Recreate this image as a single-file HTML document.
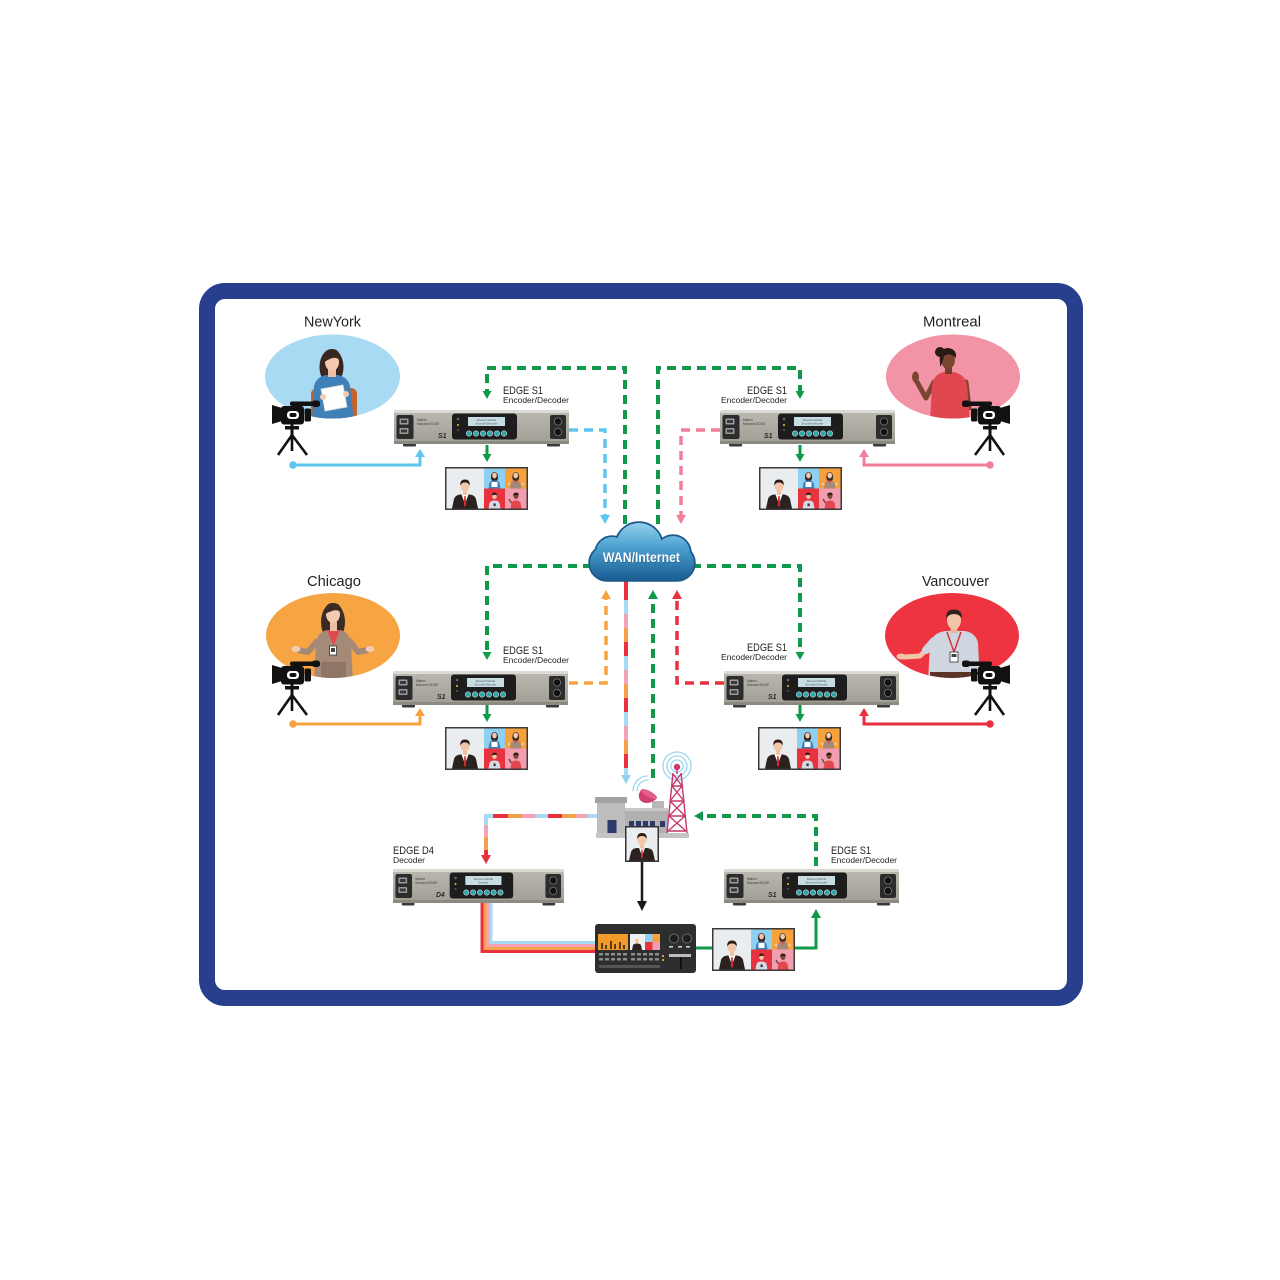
<!DOCTYPE html>
<html><head><meta charset="utf-8"><style>
html,body{margin:0;padding:0;background:#fff;}
svg{display:block}
text{font-family:"Liberation Sans",Arial,sans-serif;fill:#231f20}
.dt{font-size:3.2px;fill:#3a3a3a}
.lcd{font-size:2.8px;fill:#4a5a60}
.lg{font-size:7px;font-weight:bold;font-style:italic;fill:#2a2a2a}
</style></head><body>
<svg width="1280" height="1280" viewBox="0 0 1280 1280" xmlns="http://www.w3.org/2000/svg">
<defs>
 <linearGradient id="cloudG" x1="0" y1="520" x2="0" y2="582" gradientUnits="userSpaceOnUse">
  <stop offset="0" stop-color="#9ad6f1"/>
  <stop offset="0.45" stop-color="#4b9fd0"/>
  <stop offset="1" stop-color="#175a8f"/>
 </linearGradient>
 <linearGradient id="devG" x1="0" y1="0" x2="0" y2="1">
  <stop offset="0" stop-color="#bcb9b1"/>
  <stop offset="1" stop-color="#a09d94"/>
 </linearGradient>
 <clipPath id="cNY"><ellipse cx="332.5" cy="376.5" rx="67.5" ry="42"/></clipPath>
 <clipPath id="cMO"><ellipse cx="953" cy="376.5" rx="67" ry="42"/></clipPath>
 <clipPath id="cCH"><ellipse cx="333" cy="635.5" rx="67" ry="42.5"/></clipPath>
 <clipPath id="cVA"><ellipse cx="952" cy="635.5" rx="67" ry="42.5"/></clipPath>

 <g id="dev">
  <rect x="9" y="32" width="13" height="4.5" rx="1" fill="#3b3b3b"/>
  <rect x="153" y="32" width="13" height="4.5" rx="1" fill="#3b3b3b"/>
  <rect x="0" y="0" width="175" height="34" rx="2" fill="url(#devG)"/>
  <rect x="0" y="0" width="175" height="3" rx="1.5" fill="#dcdad4"/>
  <rect x="0" y="31" width="175" height="3" fill="#8c8981"/>
  <rect x="2.5" y="5" width="17" height="24" rx="2" fill="#2c2c2c"/>
  <rect x="5.5" y="8.5" width="9" height="6" rx="0.8" fill="#9a9a9a"/>
  <rect x="7" y="10" width="6" height="3" fill="#3a3a3a"/>
  <rect x="5.5" y="18" width="9" height="6" rx="0.8" fill="#9a9a9a"/>
  <rect x="7" y="19.5" width="6" height="3" fill="#3a3a3a"/>
  <rect x="58" y="3.5" width="65" height="26" rx="3" fill="#1d1d1d"/>
  <rect x="74" y="7" width="37" height="9" rx="0.5" fill="#c8dde3"/>
  <circle cx="64" cy="9" r="1.3" fill="#666"/>
  <circle cx="64" cy="15" r="1" fill="#e7c431"/>
  <circle cx="64" cy="20" r="1" fill="#555"/>
  <g fill="#2fa3a6" stroke="#cfe3e6" stroke-width="0.6">
   <circle cx="75" cy="23.5" r="2.7"/><circle cx="82" cy="23.5" r="2.7"/><circle cx="89" cy="23.5" r="2.7"/>
   <circle cx="96" cy="23.5" r="2.7"/><circle cx="103" cy="23.5" r="2.7"/><circle cx="110" cy="23.5" r="2.7"/>
  </g>
  <rect x="156" y="5" width="16" height="24" rx="2" fill="#2c2c2c"/>
  <circle cx="164" cy="11.5" r="3.6" fill="#111" stroke="#777" stroke-width="0.8"/>
  <circle cx="164" cy="22" r="3.6" fill="#111" stroke="#777" stroke-width="0.8"/>
 </g>

 <g id="mon">
  <rect width="83" height="43" fill="#3a3a3a"/>
  <rect x="1.5" y="1.5" width="80" height="40" fill="#e9edf0"/>
  <path d="M7 41.5 L9 32 Q10 28.5 15 27.5 L25 27.5 Q30 28.5 31 32 L33 41.5Z" fill="#2b2220"/>
  <path d="M16.5 27.5 L23.5 27.5 L20 37Z" fill="#fff"/>
  <path d="M19.3 29 L20.7 29 L21.2 38 L20 40 L18.8 38Z" fill="#d42a30"/>
  <rect x="18" y="23" width="4" height="5" fill="#f0c2a2"/>
  <ellipse cx="20" cy="19" rx="4.5" ry="5.5" fill="#f2c6a8"/>
  <path d="M15.3 18.5 Q14.8 12.5 20 12.5 Q25.2 12.5 24.7 18.5 Q23 15 20 15.5 Q17 15 15.3 18.5Z" fill="#2a1c17"/>
  <rect x="39" y="1.5" width="21" height="20" fill="#8ed0ef"/>
  <rect x="60" y="1.5" width="21.5" height="20" fill="#f6a13b"/>
  <rect x="39" y="21.5" width="21" height="20" fill="#e8333f"/>
  <rect x="60" y="21.5" width="21.5" height="20" fill="#f39db2"/>
  <ellipse cx="49.5" cy="10" rx="3.6" ry="5" fill="#3a2620"/>
  <path d="M43.5 21.5 L44.5 16 Q45.5 13.5 49.5 13.5 Q53.5 13.5 54.5 16 L55.5 21.5Z" fill="#3f80b9"/>
  <ellipse cx="49.5" cy="8.5" rx="2.3" ry="2.9" fill="#f4c8ad"/>
  <rect x="46.5" y="15" width="6" height="5" fill="#fff"/>
  <ellipse cx="70.7" cy="10" rx="3.4" ry="5" fill="#3a2b26"/>
  <path d="M65 21.5 L66 16 Q67 13.5 70.7 13.5 Q74.5 13.5 75.5 16 L76.5 21.5Z" fill="#a68a78"/>
  <path d="M69 13.5 L72.4 13.5 L70.7 17Z" fill="#e24a4f"/>
  <ellipse cx="70.7" cy="8.5" rx="2.3" ry="2.9" fill="#f3cbb0"/>
  <circle cx="64" cy="17" r="1.2" fill="#f3cbb0"/><circle cx="77.5" cy="17" r="1.2" fill="#f3cbb0"/>
  <path d="M43.5 41.5 L44.5 36 Q45.5 33.5 49.5 33.5 Q53.5 33.5 54.5 36 L55.5 41.5Z" fill="#d3dae3"/>
  <ellipse cx="49.5" cy="29" rx="2.4" ry="3" fill="#f2c4a5"/>
  <path d="M47 28.5 Q47 25.5 49.5 25.5 Q52 25.5 52 28.5 Q50 27 47 28.5Z" fill="#2b1c17"/>
  <rect x="48.5" y="36.5" width="2.2" height="2.6" fill="#333"/>
  <path d="M65.5 41.5 L66.5 36 Q67.5 33.5 71 33.5 Q74.5 33.5 75.5 36 L76.5 41.5Z" fill="#e1474f"/>
  <ellipse cx="71" cy="29" rx="2.4" ry="3" fill="#7a4630"/>
  <path d="M68.3 29 Q68 25.5 71 25.5 Q74 25.5 73.7 28.5 Q71 26.5 68.3 29Z" fill="#2a1a14"/>
  <path d="M66.5 36 L64 32" stroke="#7a4630" stroke-width="1.5"/>
 </g>

 <g id="cam">
  <g fill="#111">
   <rect x="-2" y="1.5" width="26" height="4.5" rx="2"/>
   <rect x="20" y="0.5" width="8" height="6.5" rx="2.5"/>
   <rect x="1" y="4" width="3" height="4"/>
   <polygon points="-20,5 -10,8 -10,21 -20,24"/>
   <rect x="-11" y="6" width="23" height="18.5" rx="3"/>
   <rect x="12.5" y="8.5" width="6.5" height="13" rx="1.5"/>
   <rect x="-7" y="26" width="14" height="3.5"/>
   <rect x="-1.5" y="24" width="3" height="14"/>
  </g>
  <rect x="-5" y="11" width="12" height="8" rx="3.5" fill="#fff"/>
  <rect x="-2.5" y="13" width="7" height="4" rx="2" fill="#111"/>
  <path d="M0 35 L-14 55 M0 35 L15 55 M0 35 L0 51" stroke="#111" stroke-width="2.6" fill="none"/>
 </g>
</defs>

<!-- frame -->
<rect x="207" y="291" width="868" height="707" rx="18" fill="#fff" stroke="#273f8d" stroke-width="16"/>

<!-- city labels -->
<text x="304" y="326.5" font-size="15" textLength="57" lengthAdjust="spacingAndGlyphs">NewYork</text>
<text x="923" y="326.5" font-size="15" textLength="58" lengthAdjust="spacingAndGlyphs">Montreal</text>
<text x="307" y="586" font-size="15" textLength="54" lengthAdjust="spacingAndGlyphs">Chicago</text>
<text x="922" y="586" font-size="15" textLength="67" lengthAdjust="spacingAndGlyphs">Vancouver</text>

<!-- device labels -->
<g font-size="11">
 <text x="503" y="394" textLength="40" lengthAdjust="spacingAndGlyphs">EDGE S1</text>
 <text x="747" y="394" textLength="40" lengthAdjust="spacingAndGlyphs">EDGE S1</text>
 <text x="503" y="654" textLength="40" lengthAdjust="spacingAndGlyphs">EDGE S1</text>
 <text x="747" y="651" textLength="40" lengthAdjust="spacingAndGlyphs">EDGE S1</text>
 <text x="393" y="854" textLength="41" lengthAdjust="spacingAndGlyphs">EDGE D4</text>
 <text x="831" y="854" textLength="40" lengthAdjust="spacingAndGlyphs">EDGE S1</text>
</g>
<g font-size="8.5">
 <text x="503" y="403" textLength="66" lengthAdjust="spacingAndGlyphs">Encoder/Decoder</text>
 <text x="721" y="403" textLength="66" lengthAdjust="spacingAndGlyphs">Encoder/Decoder</text>
 <text x="503" y="663" textLength="66" lengthAdjust="spacingAndGlyphs">Encoder/Decoder</text>
 <text x="721" y="660" textLength="66" lengthAdjust="spacingAndGlyphs">Encoder/Decoder</text>
 <text x="393" y="863" textLength="32" lengthAdjust="spacingAndGlyphs">Decoder</text>
 <text x="831" y="863" textLength="66" lengthAdjust="spacingAndGlyphs">Encoder/Decoder</text>
</g>

<!-- ellipses & people -->
<ellipse cx="332.5" cy="376.5" rx="67.5" ry="42" fill="#a9daf3"/>
<g clip-path="url(#cNY)">
 <rect x="311" y="388" width="46" height="34" rx="6" fill="#c0652d"/>
 <ellipse cx="331.5" cy="367" rx="12" ry="18" fill="#3a2620"/>
 <path d="M312 422 L314 386 Q316 377 326 375 L338 375 Q348 377 350 386 L354 422Z" fill="#3f80b9"/>
 <rect x="328" y="367" width="8" height="10" fill="#efbea2"/>
 <ellipse cx="332" cy="362" rx="7" ry="9" fill="#f5c9af"/>
 <path d="M324.5 362 Q323 349 332 349 Q341 349 340 361 Q336 354 324.5 362Z" fill="#3a2620"/>
 <polygon points="321,389 343,385 347,407 325,411" fill="#fff" stroke="#d8d8d8" stroke-width="0.8"/>
 <circle cx="323" cy="397" r="3" fill="#f5c9af"/><circle cx="346" cy="394" r="3" fill="#f5c9af"/>
</g>

<ellipse cx="953" cy="376.5" rx="67" ry="42" fill="#f393a6"/>
<g clip-path="url(#cMO)">
 <circle cx="940" cy="352" r="5" fill="#2a1a14"/>
 <path d="M934 382 L926 398 L917 382" stroke="#7a4630" stroke-width="5" fill="none" stroke-linejoin="round" stroke-linecap="round"/>
 <ellipse cx="915.5" cy="377" rx="3.5" ry="5.5" fill="#7a4630"/>
 <path d="M966 382 L969 408" stroke="#7a4630" stroke-width="5" stroke-linecap="round"/>
 <path d="M930 422 L932 385 Q934 374 944 372 L953 372 Q965 374 967 385 L970 422Z" fill="#e1474f"/>
 <rect x="945" y="365" width="7" height="9" fill="#6e3f2a"/>
 <ellipse cx="948" cy="360" rx="7" ry="9" fill="#7a4630"/>
 <path d="M940 363 Q938 348 948 348 Q957 349 956 358 Q950 352 944 356 Q943 362 940 367Z" fill="#2a1a14"/>
</g>

<ellipse cx="333" cy="635.5" rx="67" ry="42.5" fill="#f7a443"/>
<g clip-path="url(#cCH)">
 <ellipse cx="333" cy="622" rx="12" ry="19" fill="#3a2b26"/>
 <path d="M318 640 L308 652 L298 650" stroke="#a68a78" stroke-width="6" fill="none" stroke-linejoin="round"/>
 <path d="M349 640 L358 652 L368 650" stroke="#a68a78" stroke-width="6" fill="none" stroke-linejoin="round"/>
 <ellipse cx="296" cy="649" rx="4.5" ry="3" fill="#f3cbb0"/>
 <ellipse cx="370" cy="649" rx="4.5" ry="3" fill="#f3cbb0"/>
 <path d="M314 682 L316 642 Q318 632 327 630 L340 630 Q349 632 351 642 L353 682Z" fill="#a68a78"/>
 <rect x="321" y="662" width="25" height="20" fill="#8f7566"/>
 <polygon points="327,630 340,630 333.5,646" fill="#e24a4f"/>
 <rect x="330" y="622" width="7" height="9" fill="#ecbfa3"/>
 <ellipse cx="333" cy="614" rx="7" ry="9" fill="#f3cbb0"/>
 <path d="M325.5 614 Q324 603 333 603 Q342 603 341 613 Q337 607 325.5 614Z" fill="#3a2b26"/>
 <rect x="329.5" y="646" width="7" height="9" fill="#fff" stroke="#333" stroke-width="0.8"/>
 <rect x="331" y="648" width="4" height="4" fill="#444"/>
</g>

<ellipse cx="952" cy="635.5" rx="67" ry="42.5" fill="#ee3441"/>
<g clip-path="url(#cVA)">
 <path d="M934 642 L920 656 L904 657" stroke="#f2c4a5" stroke-width="5" fill="none" stroke-linejoin="round" stroke-linecap="round"/>
 <path d="M934 641 L926 650" stroke="#cfd6e0" stroke-width="8" stroke-linecap="round"/>
 <ellipse cx="901" cy="656.5" rx="4.5" ry="3" fill="#f2c4a5"/>
 <path d="M928 682 L930 643 Q933 633 945 631 L965 631 Q976 633 978 643 L980 682Z" fill="#cfd6e0"/>
 <rect x="930" y="672" width="48" height="10" fill="#5a3426"/>
 <rect x="950.5" y="624" width="7" height="9" fill="#e8b797"/>
 <ellipse cx="954" cy="620" rx="7" ry="9.5" fill="#f2c4a5"/>
 <path d="M946.5 619 Q945 609.5 954 609.5 Q963 609.5 961.5 619 Q960 614 954 614 Q948 614 946.5 619Z" fill="#2f211b"/>
 <path d="M947 632 L954 652 L961 632" stroke="#d62f3e" stroke-width="1.5" fill="none"/>
 <rect x="950" y="652" width="8" height="10" fill="#fff" stroke="#333" stroke-width="0.8"/>
 <rect x="951.5" y="654" width="5" height="3" fill="#444"/>
</g>

<!-- cameras -->
<use href="#cam" transform="translate(292,400)"/>
<use href="#cam" transform="translate(292,660)"/>
<use href="#cam" transform="translate(990,400) scale(-1,1)"/>
<use href="#cam" transform="translate(990,660) scale(-1,1)"/>

<!-- solid camera lines -->
<g stroke-width="3" fill="none">
 <path d="M293 465 H420 V456" stroke="#5ec5ee"/>
 <path d="M990 465 H864 V456" stroke="#f27f99"/>
 <path d="M293 724 H420 V715" stroke="#f7a23f"/>
 <path d="M990 724 H864 V715" stroke="#e8303f"/>
</g>
<circle cx="293" cy="465" r="3.8" fill="#5ec5ee"/>
<polygon points="415,457 425,457 420,449" fill="#5ec5ee"/>
<circle cx="990" cy="465" r="3.8" fill="#f27f99"/>
<polygon points="859,457 869,457 864,449" fill="#f27f99"/>
<circle cx="293" cy="724" r="3.8" fill="#f7a23f"/>
<polygon points="415,716 425,716 420,708" fill="#f7a23f"/>
<circle cx="990" cy="724" r="3.8" fill="#e8303f"/>
<polygon points="859,716 869,716 864,708" fill="#e8303f"/>

<!-- dashed lines -->
<g fill="none" stroke-width="4" stroke-dasharray="9 6">
 <path d="M625 524 V368 H487 V391" stroke="#0f9a4a"/>
 <path d="M658 524 V368 H800 V391" stroke="#0f9a4a"/>
 <path d="M592 566 H487 V652" stroke="#0f9a4a"/>
 <path d="M692 566 H800 V652" stroke="#0f9a4a"/>
 <path d="M653 778 V598" stroke="#0f9a4a"/>
 <path d="M816 866 V816 H702" stroke="#0f9a4a"/>
 <path d="M569 430 H605 V515" stroke="#5ec5ee" stroke-width="3.5"/>
 <path d="M720 430 H681 V515" stroke="#f27f99" stroke-width="3.5"/>
 <path d="M569 683 H606 V598" stroke="#f7a23f" stroke-width="3.5"/>
 <path d="M724 683 H677 V598" stroke="#e8303f" stroke-width="3.5"/>
</g>
<polygon points="482.5,391 491.5,391 487,399" fill="#0f9a4a"/>
<polygon points="795.5,391 804.5,391 800,399" fill="#0f9a4a"/>
<polygon points="482.5,652 491.5,652 487,660" fill="#0f9a4a"/>
<polygon points="795.5,652 804.5,652 800,660" fill="#0f9a4a"/>
<polygon points="648,599 658,599 653,590" fill="#0f9a4a"/>
<polygon points="703,811 703,821 694,816" fill="#0f9a4a"/>
<polygon points="600,515 610,515 605,524" fill="#5ec5ee"/>
<polygon points="676,515 686,515 681,524" fill="#f27f99"/>
<polygon points="601,599 611,599 606,590" fill="#f7a23f"/>
<polygon points="672,599 682,599 677,590" fill="#e8303f"/>

<!-- multicolor vertical from cloud -->
<g stroke-width="4">
 <line x1="626" y1="578" x2="626" y2="600" stroke="#e8303f"/>
 <line x1="626" y1="600" x2="626" y2="614" stroke="#a6dbf3"/>
 <line x1="626" y1="614" x2="626" y2="628" stroke="#f4a3b6"/>
 <line x1="626" y1="628" x2="626" y2="642" stroke="#f5a04a"/>
 <line x1="626" y1="642" x2="626" y2="656" stroke="#e8303f"/>
 <line x1="626" y1="656" x2="626" y2="670" stroke="#a6dbf3"/>
 <line x1="626" y1="670" x2="626" y2="684" stroke="#f4a3b6"/>
 <line x1="626" y1="684" x2="626" y2="698" stroke="#f5a04a"/>
 <line x1="626" y1="698" x2="626" y2="712" stroke="#e8303f"/>
 <line x1="626" y1="712" x2="626" y2="726" stroke="#a6dbf3"/>
 <line x1="626" y1="726" x2="626" y2="740" stroke="#f4a3b6"/>
 <line x1="626" y1="740" x2="626" y2="754" stroke="#f5a04a"/>
 <line x1="626" y1="754" x2="626" y2="768" stroke="#e8303f"/>
 <line x1="626" y1="768" x2="626" y2="776" stroke="#a6dbf3"/>
</g>
<polygon points="621,775 631,775 626,784" fill="#93d2f0"/>

<!-- multicolor horizontal to D4 -->
<g stroke-width="4">
 <line x1="599" y1="816" x2="588" y2="816" stroke="#a6dbf3"/>
 <line x1="588" y1="816" x2="575" y2="816" stroke="#f4a3b6"/>
 <line x1="575" y1="816" x2="562" y2="816" stroke="#f5a04a"/>
 <line x1="562" y1="816" x2="548" y2="816" stroke="#e8303f"/>
 <line x1="548" y1="816" x2="535" y2="816" stroke="#a6dbf3"/>
 <line x1="535" y1="816" x2="522" y2="816" stroke="#f4a3b6"/>
 <line x1="522" y1="816" x2="508" y2="816" stroke="#f5a04a"/>
 <line x1="508" y1="816" x2="493" y2="816" stroke="#e8303f"/>
 <path d="M493 816 H486 V825" stroke="#a6dbf3" fill="none"/>
 <line x1="486" y1="825" x2="486" y2="837" stroke="#f4a3b6"/>
 <line x1="486" y1="837" x2="486" y2="850" stroke="#f5a04a"/>
 <line x1="486" y1="850" x2="486" y2="856" stroke="#e8303f"/>
</g>
<polygon points="481,855 491,855 486,864" fill="#e8303f"/>

<!-- cables from D4 to switcher -->
<g fill="none" stroke-width="3">
 <path d="M482 902 V951.5 H596" stroke="#e8303f"/>
 <path d="M485 902 V948.5 H596" stroke="#f5a04a"/>
 <path d="M488 902 V945.5 H596" stroke="#f4a3b6"/>
 <path d="M491 902 V942.5 H596" stroke="#a6dbf3"/>
</g>

<!-- green device->monitor arrows -->
<g stroke="#0f9a4a" stroke-width="3">
 <line x1="487" y1="445" x2="487" y2="455"/>
 <line x1="800" y1="445" x2="800" y2="455"/>
 <line x1="487" y1="705" x2="487" y2="715"/>
 <line x1="800" y1="705" x2="800" y2="715"/>
</g>
<g fill="#0f9a4a">
 <polygon points="482.5,454 491.5,454 487,462"/>
 <polygon points="795.5,454 804.5,454 800,462"/>
 <polygon points="482.5,714 491.5,714 487,722"/>
 <polygon points="795.5,714 804.5,714 800,722"/>
</g>

<!-- bottom green solid + black arrow -->
<path d="M696 948 H712 M794 948 H816 V917" stroke="#0f9a4a" stroke-width="3" fill="none"/>
<polygon points="811,918 821,918 816,909" fill="#0f9a4a"/>
<line x1="642" y1="862" x2="642" y2="902" stroke="#1a1a1a" stroke-width="2.5"/>
<polygon points="637,901 647,901 642,911" fill="#1a1a1a"/>

<!-- devices -->
<g transform="translate(394,410)"><use href="#dev"/><text x="23" y="11" class="dt">Matrox</text><text x="23" y="15" class="dt">Monarch EDGE</text><text x="44" y="28" class="lg">S1</text><text x="92.5" y="10.8" class="lcd" text-anchor="middle">Monarch EDGE</text><text x="92.5" y="14.3" class="lcd" text-anchor="middle">Encoder/Decoder</text></g>
<g transform="translate(720,410)"><use href="#dev"/><text x="23" y="11" class="dt">Matrox</text><text x="23" y="15" class="dt">Monarch EDGE</text><text x="44" y="28" class="lg">S1</text><text x="92.5" y="10.8" class="lcd" text-anchor="middle">Monarch EDGE</text><text x="92.5" y="14.3" class="lcd" text-anchor="middle">Encoder/Decoder</text></g>
<g transform="translate(393,671)"><use href="#dev"/><text x="23" y="11" class="dt">Matrox</text><text x="23" y="15" class="dt">Monarch EDGE</text><text x="44" y="28" class="lg">S1</text><text x="92.5" y="10.8" class="lcd" text-anchor="middle">Monarch EDGE</text><text x="92.5" y="14.3" class="lcd" text-anchor="middle">Encoder/Decoder</text></g>
<g transform="translate(724,671)"><use href="#dev"/><text x="23" y="11" class="dt">Matrox</text><text x="23" y="15" class="dt">Monarch EDGE</text><text x="44" y="28" class="lg">S1</text><text x="92.5" y="10.8" class="lcd" text-anchor="middle">Monarch EDGE</text><text x="92.5" y="14.3" class="lcd" text-anchor="middle">Encoder/Decoder</text></g>
<g transform="translate(393,869) scale(0.977,1)"><use href="#dev"/><text x="23" y="11" class="dt">Matrox</text><text x="23" y="15" class="dt">Monarch EDGE</text><text x="44" y="28" class="lg">D4</text><text x="92.5" y="10.8" class="lcd" text-anchor="middle">Monarch EDGE</text><text x="92.5" y="14.3" class="lcd" text-anchor="middle">Decoder</text></g>
<g transform="translate(724,869)"><use href="#dev"/><text x="23" y="11" class="dt">Matrox</text><text x="23" y="15" class="dt">Monarch EDGE</text><text x="44" y="28" class="lg">S1</text><text x="92.5" y="10.8" class="lcd" text-anchor="middle">Monarch EDGE</text><text x="92.5" y="14.3" class="lcd" text-anchor="middle">Encoder/Decoder</text></g>

<!-- monitors -->
<use href="#mon" x="445" y="467"/>
<use href="#mon" x="759" y="467"/>
<use href="#mon" x="445" y="727"/>
<use href="#mon" x="758" y="727"/>
<use href="#mon" x="712" y="928"/>

<!-- cloud -->
<g stroke="#1d5b8e" stroke-width="3.5" fill="#1d5b8e">
 <rect x="590" y="546" width="104" height="34" rx="17"/>
 <circle cx="612" cy="553" r="16"/>
 <circle cx="639" cy="546" r="23"/>
 <circle cx="673" cy="553" r="17"/>
</g>
<g fill="url(#cloudG)">
 <rect x="590" y="546" width="104" height="34" rx="17"/>
 <circle cx="612" cy="553" r="16"/>
 <circle cx="639" cy="546" r="23"/>
 <circle cx="673" cy="553" r="17"/>
</g>
<text x="603.5" y="562.5" font-size="14" font-weight="bold" textLength="77" lengthAdjust="spacingAndGlyphs" style="fill:#1a4f7a">WAN/Internet</text>
<text x="603" y="562" font-size="14" font-weight="bold" textLength="77" lengthAdjust="spacingAndGlyphs" style="fill:#ffffff">WAN/Internet</text>

<!-- broadcast station -->
<g>
 <circle cx="677" cy="766" r="14" fill="none" stroke="#9ad6f1" stroke-width="1.3"/>
 <circle cx="677" cy="766" r="10" fill="none" stroke="#9ad6f1" stroke-width="1.3"/>
 <circle cx="677" cy="766" r="6" fill="none" stroke="#9ad6f1" stroke-width="1.3"/>
 <path d="M637 791 A11 11 0 0 1 648 780" fill="none" stroke="#9ad6f1" stroke-width="1.3"/>
 <path d="M633 791 A15 15 0 0 1 648 776" fill="none" stroke="#9ad6f1" stroke-width="1.3"/>
 <rect x="597" y="802" width="28" height="36" fill="#bdbdbd"/>
 <rect x="595" y="797" width="32" height="6" fill="#a2a2a2"/>
 <rect x="607.5" y="820" width="9" height="17" fill="#2b3a6b"/>
 <rect x="625" y="808" width="43" height="30" fill="#b1b1b1"/>
 <rect x="625" y="808" width="43" height="3" fill="#c9c9c9"/>
 <rect x="652" y="801" width="12" height="7" fill="#b8b8b8"/>
 <g fill="#2b3a6b">
  <rect x="629" y="821" width="5" height="6"/><rect x="636" y="821" width="5" height="6"/>
  <rect x="643" y="821" width="5" height="6"/><rect x="650" y="821" width="5" height="6"/>
  <rect x="660" y="821" width="5" height="6"/>
 </g>
 <rect x="648" y="796" width="3" height="6" fill="#999"/>
 <path d="M641 790 A9 7 -30 0 0 657 798 Z" fill="#d1406f"/>
 <ellipse cx="649" cy="794" rx="9" ry="3" transform="rotate(28 649 794)" fill="#e0608a"/>
 <g stroke="#c6376c" stroke-width="1.4" fill="none">
  <path d="M673 773 L667 833 M681 773 L687 833"/>
  <path d="M672 786 H682 M670 801 H684 M669 816 H685 M668 831 H686"/>
  <path d="M673 774 L682 786 M681 774 L672 786 M672 786 L684 801 M682 786 L670 801 M670 801 L685 816 M684 801 L669 816 M669 816 L686 831 M685 816 L668 831"/>
  <line x1="677" y1="769" x2="677" y2="774"/>
 </g>
 <circle cx="677" cy="767" r="3.2" fill="#c6376c"/>
 <rect x="596" y="833" width="93" height="5" fill="#c4c4c4"/>
</g>

<!-- anchor box -->
<g>
 <rect x="625" y="826" width="34" height="36" fill="#333"/>
 <rect x="626.5" y="827.5" width="31" height="33" fill="#eaeef1"/>
 <path d="M629 860.5 L631 852 Q632 848.5 637 848 L647 848 Q652 848.5 653 852 L655 860.5Z" fill="#2b2220"/>
 <path d="M639 848 L645 848 L642 856Z" fill="#fff"/>
 <path d="M641.4 849.5 L642.6 849.5 L643 857 L642 859 L641 857Z" fill="#d42a30"/>
 <rect x="640" y="843" width="4" height="5.5" fill="#f0c2a2"/>
 <ellipse cx="642" cy="839.5" rx="4.5" ry="5.5" fill="#f2c6a8"/>
 <path d="M637.3 839 Q636.8 833 642 833 Q647.2 833 646.7 839 Q645 835.5 642 836 Q639 835.5 637.3 839Z" fill="#2a1c17"/>
</g>

<!-- switcher -->
<g>
 <rect x="595" y="924" width="101" height="49" rx="3" fill="#2e2e2e"/>
 <rect x="598" y="934" width="30" height="16" fill="#f29a2a"/>
 <g fill="#5a3a10">
  <rect x="601" y="943" width="2" height="6"/><rect x="605" y="945" width="2" height="4"/>
  <rect x="610" y="941" width="2" height="8"/><rect x="614" y="944" width="2" height="5"/>
  <rect x="619" y="942" width="2" height="7"/><rect x="623" y="945" width="2" height="4"/>
 </g>
 <rect x="630" y="934" width="30" height="16" fill="#eef0f2"/>
 <path d="M632 950 L633 945 Q634 943.5 637 943.5 Q640 943.5 641 945 L642 950Z" fill="#2b2220"/>
 <circle cx="637" cy="941" r="2.2" fill="#f2c6a8"/>
 <rect x="645" y="934" width="7.5" height="8" fill="#8ed0ef"/>
 <rect x="652.5" y="934" width="7.5" height="8" fill="#f6a13b"/>
 <rect x="645" y="942" width="7.5" height="8" fill="#e8333f"/>
 <rect x="652.5" y="942" width="7.5" height="8" fill="#f39db2"/>
 <circle cx="674" cy="938.5" r="4.5" fill="#1e1e1e" stroke="#6a6a6a" stroke-width="1"/>
 <circle cx="687" cy="938.5" r="4.5" fill="#1e1e1e" stroke="#6a6a6a" stroke-width="1"/>
 <g fill="#cfcfcf">
  <rect x="669" y="946" width="4" height="1.6"/><rect x="678" y="946" width="4" height="1.6"/><rect x="686" y="946" width="4" height="1.6"/>
 </g>
 <g fill="#8c8c8c">
  <rect x="599" y="953" width="4" height="2.5"/><rect x="605" y="953" width="4" height="2.5"/><rect x="611" y="953" width="4" height="2.5"/><rect x="617" y="953" width="4" height="2.5"/><rect x="623" y="953" width="4" height="2.5"/>
  <rect x="599" y="958" width="4" height="2.5"/><rect x="605" y="958" width="4" height="2.5"/><rect x="611" y="958" width="4" height="2.5"/><rect x="617" y="958" width="4" height="2.5"/><rect x="623" y="958" width="4" height="2.5"/>
  <rect x="631" y="953" width="4" height="2.5"/><rect x="637" y="953" width="4" height="2.5"/><rect x="643" y="953" width="4" height="2.5"/><rect x="649" y="953" width="4" height="2.5"/><rect x="655" y="953" width="4" height="2.5"/>
  <rect x="631" y="958" width="4" height="2.5"/><rect x="637" y="958" width="4" height="2.5"/><rect x="643" y="958" width="4" height="2.5"/><rect x="649" y="958" width="4" height="2.5"/><rect x="655" y="958" width="4" height="2.5"/>
 </g>
 <rect x="599" y="965" width="61" height="3" fill="#555"/>
 <rect x="662" y="955" width="2" height="2" fill="#e79a2a"/><rect x="662" y="959" width="2" height="2" fill="#e79a2a"/>
 <rect x="669" y="954" width="22" height="3" fill="#bdbdbd"/>
 <rect x="680" y="957" width="2" height="12" fill="#111"/>
</g>
</svg>
</body></html>
